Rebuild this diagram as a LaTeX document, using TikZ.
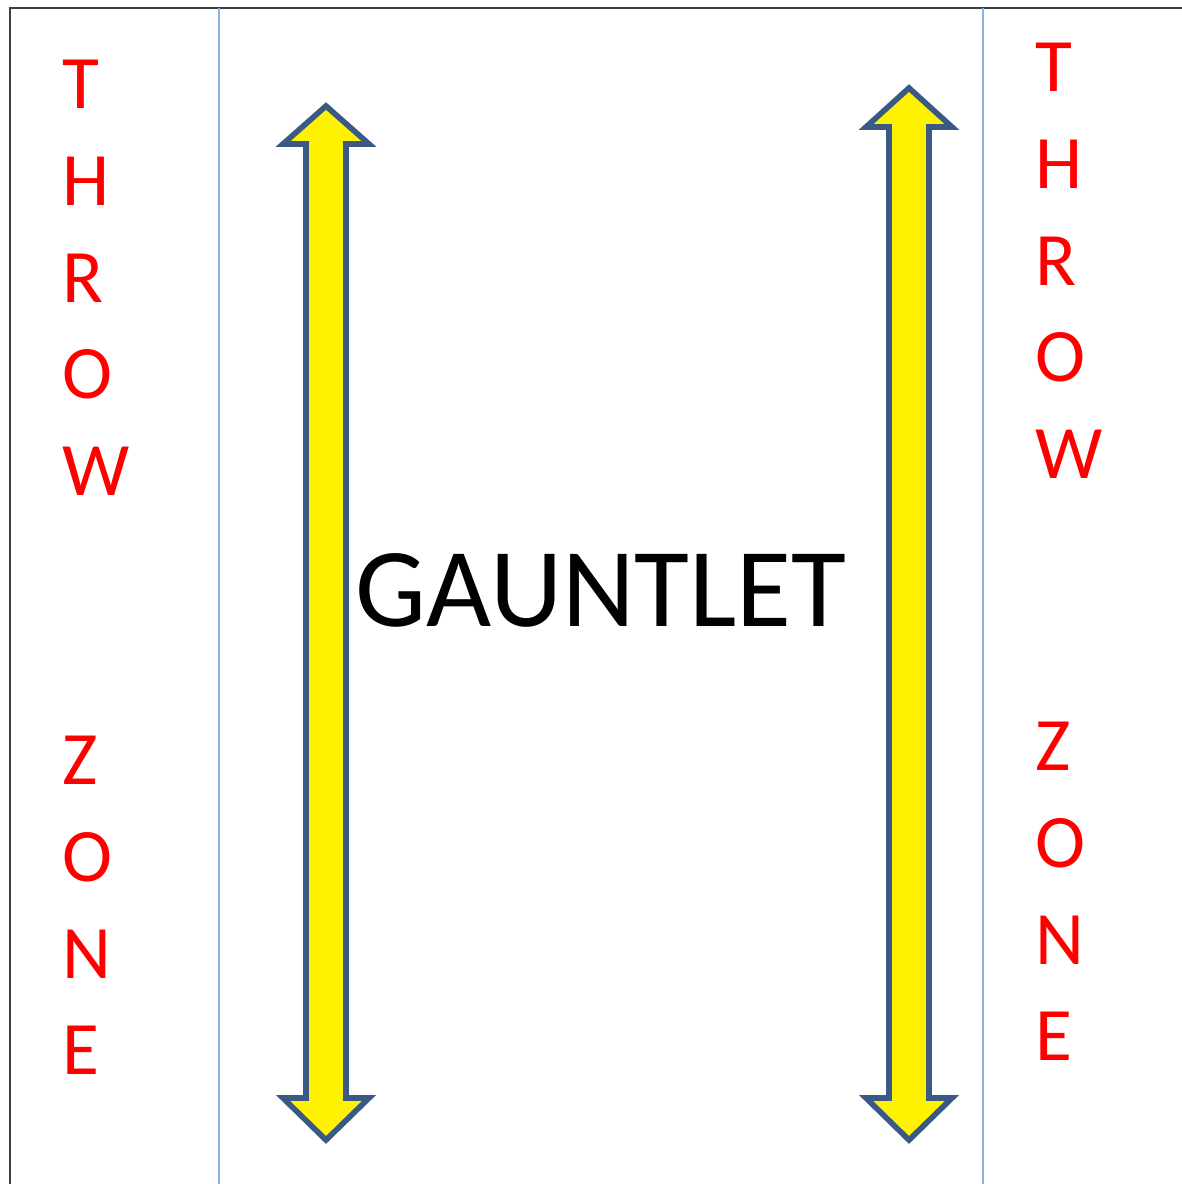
\documentclass[tikz,border=0pt]{standalone}
\usepackage{fontspec}
\setmainfont{Carlito}
\definecolor{arrowline}{HTML}{3A5A85}
\definecolor{zoneline}{HTML}{8DB3E2}
\begin{document}
\begin{tikzpicture}[x=0.02cm, y=-0.02cm,
  frame/.style={draw=black!75, line width=1.2pt},
  divider/.style={draw=zoneline, line width=1.1pt},
  runarrow/.style={draw=arrowline, fill=yellow, line width=3.2pt, line join=miter},
  zone/.style={text=red, font=\fontsize{43}{55}\selectfont, align=left, inner sep=0pt, anchor=north west},
  title/.style={font=\fontsize{64}{70}\selectfont, inner sep=0pt}]
\useasboundingbox (0,0) rectangle (1182,1184);
\draw[frame] (10,1184) -- (10,8) -- (1182,8);
\draw[divider] (219,8) -- (219,1184);
\draw[divider] (983,8) -- (983,1184);
% the two running arrows
\foreach \cx/\tip/\hb in {326/106/144, 909/88/127}{
  \begin{scope}[shift={(\cx,0)}]
    \draw[runarrow] (0,\tip) -- (43,\hb) -- (20,\hb) -- (20,1098) -- (43,1098) -- (0,1140)
      -- (-43,1098) -- (-20,1098) -- (-20,\hb) -- (-43,\hb) -- cycle;
  \end{scope}
}
\node[zone] (throwL) at (62,60) {T\\H\\R\\O\\W};
\node[zone] (zoneL) at (62,736) {Z\\O\\N\\E};
\node[zone] (throwR) at (1035,43) {T\\H\\R\\O\\W};
\node[zone] (zoneR) at (1035,722) {Z\\O\\N\\E};
\node[title] (gauntlet) at (601,590) {GAUNTLET};
\end{tikzpicture}
\end{document}
